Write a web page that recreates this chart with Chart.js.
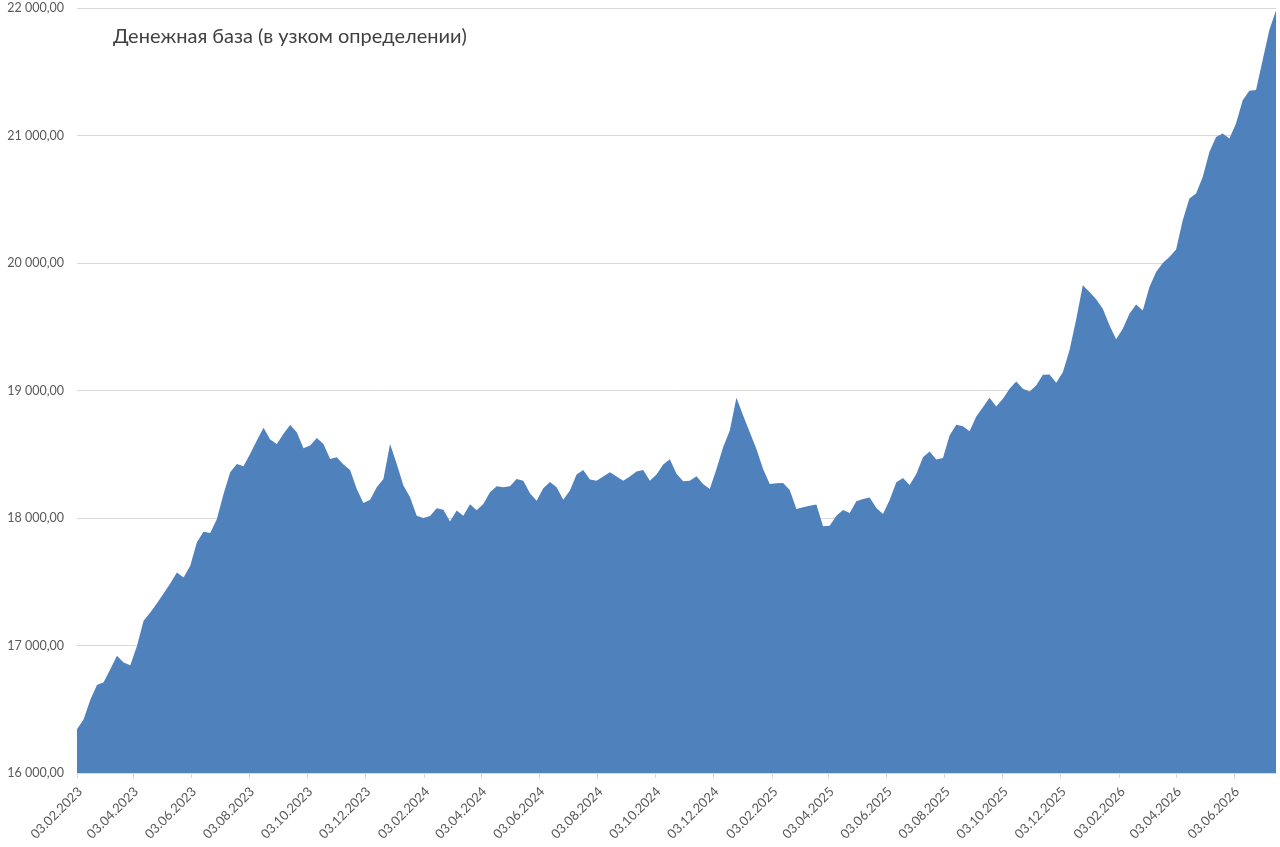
<!DOCTYPE html>
<html>
<head>
<meta charset="utf-8">
<script src="https://cdn.jsdelivr.net/npm/chart.js@4.4.1/dist/chart.umd.min.js"></script>
<style>
  html, body { margin: 0; padding: 0; background: #ffffff; }
  #wrap { position: relative; width: 1280px; height: 847px; }
  canvas { display: block; }
</style>
</head>
<body>
<div id="wrap"><canvas id="c" width="1280" height="847"></canvas></div>
<script>
// ---- Data (weekly observations starting 03.02.2023) ----
const chartTitle = "Денежная база (в узком определении)";
const startDate = "03.02.2023";
const stepDays = 7;
const baseValues = [
  16343, 16422, 16575, 16690, 16712, 16814, 16919, 16866, 16846, 16997,
  17194, 17259, 17332, 17408, 17487, 17573, 17534, 17626, 17809, 17893,
  17882, 17992, 18188, 18358, 18424, 18405, 18503, 18607, 18707, 18615,
  18581, 18660, 18730, 18673, 18547, 18568, 18628, 18581, 18463, 18476,
  18419, 18377, 18228, 18118, 18144, 18241, 18306, 18581, 18424, 18254,
  18162, 18018, 18000, 18016, 18076, 18065, 17973, 18058, 18018, 18108,
  18060, 18110, 18202, 18249, 18241, 18249, 18306, 18293, 18194, 18136,
  18233, 18283, 18241, 18144, 18215, 18341, 18377, 18301, 18293, 18325,
  18359, 18325, 18293, 18325, 18364, 18377, 18293, 18341, 18419, 18460,
  18348, 18288, 18293, 18327, 18267, 18228, 18385, 18555, 18686, 18943,
  18804, 18673, 18542, 18385, 18267, 18272, 18275, 18220, 18071, 18084,
  18097, 18105, 17935, 17940, 18018, 18063, 18039, 18131, 18149, 18160,
  18078, 18032, 18142, 18280, 18314, 18259, 18346, 18476, 18521, 18458,
  18471, 18647, 18731, 18720, 18681, 18796, 18869, 18943, 18874, 18935,
  19013, 19071, 19013, 18992, 19039, 19123, 19126, 19061, 19144, 19315,
  19556, 19825, 19772, 19715, 19642, 19511, 19401, 19484, 19602, 19675,
  19628, 19812, 19929, 20000, 20047, 20105, 20335, 20505, 20545, 20675,
  20871, 20989, 21016, 20976, 21094, 21277, 21351, 21356, 21592, 21827,
  21980
];
const xTickLabels = [
  "03.02.2023", "03.04.2023", "03.06.2023", "03.08.2023", "03.10.2023", "03.12.2023",
  "03.02.2024", "03.04.2024", "03.06.2024", "03.08.2024", "03.10.2024", "03.12.2024",
  "03.02.2025", "03.04.2025", "03.06.2025", "03.08.2025", "03.10.2025", "03.12.2025",
  "03.02.2026", "03.04.2026", "03.06.2026"
];
const yMin = 16000, yMax = 22000, yStep = 1000;

// ---- helpers ----
function parseDMY(s) {
  const p = s.split(".");
  return Date.UTC(+p[2], +p[1] - 1, +p[0]);
}
const DAY = 86400000;
const t0 = parseDMY(startDate);
function dayOffset(s) { return Math.round((parseDMY(s) - t0) / DAY); }
function fmtDay(d) {
  const dt = new Date(t0 + d * DAY);
  const dd = String(dt.getUTCDate()).padStart(2, "0");
  const mm = String(dt.getUTCMonth() + 1).padStart(2, "0");
  return dd + "." + mm + "." + dt.getUTCFullYear();
}
function fmtNum(v) {
  const fixed = v.toFixed(2).split(".");
  const intPart = fixed[0].replace(/\B(?=(\d{3})+(?!\d))/g, "\u00a0");
  return intPart + "," + fixed[1];
}

const points = baseValues.map((v, i) => ({ x: i * stepDays, y: v }));
const tickDays = xTickLabels.map(dayOffset);
const xMax = (baseValues.length - 1) * stepDays;

const FONT = "Lato, 'Open Sans', 'DejaVu Sans', sans-serif";
const GRID = "#d9d9d9";
const TEXT = "#595959";

const titlePlugin = {
  id: "overlayTitle",
  afterDraw(chart) {
    const ctx = chart.ctx;
    ctx.save();
    ctx.font = "20px " + FONT;
    ctx.fillStyle = "#404040";
    ctx.textAlign = "left";
    ctx.textBaseline = "alphabetic";
    ctx.fillText(chartTitle, chart.chartArea.left + 36, chart.chartArea.top + 35);
    ctx.restore();
  }
};

new Chart(document.getElementById("c"), {
  type: "line",
  data: {
    datasets: [{
      label: chartTitle,
      data: points,
      fill: "start",
      backgroundColor: "#4f81bd",
      borderColor: "#4f81bd",
      borderWidth: 0,
      pointRadius: 0,
      tension: 0
    }]
  },
  options: {
    responsive: false,
    animation: false,
    devicePixelRatio: 1,
    layout: { padding: { top: 8, right: 4, left: 0, bottom: 0 } },
    plugins: {
      legend: { display: false },
      title: { display: false },
      tooltip: { enabled: false }
    },
    scales: {
      x: {
        type: "linear",
        min: 0,
        max: xMax,
        afterBuildTicks(scale) {
          scale.ticks = tickDays.map(v => ({ value: v }));
        },
        afterFit(scale) {
          scale.height = 74;
          scale.paddingLeft = 0;
          scale.paddingRight = 0;
        },
        ticks: {
          autoSkip: false,
          minRotation: 45,
          maxRotation: 45,
          padding: 6,
          labelOffset: 3,
          color: TEXT,
          font: { family: FONT, size: 13 },
          callback: (v) => fmtDay(v)
        },
        grid: {
          drawOnChartArea: false,
          drawTicks: true,
          tickLength: 5,
          color: GRID
        },
        border: { display: true, color: GRID, width: 1 }
      },
      y: {
        min: yMin,
        max: yMax,
        afterFit(scale) {
          scale.width = 77;
          scale.paddingTop = 0;
          scale.paddingBottom = 0;
        },
        ticks: {
          stepSize: yStep,
          padding: 13,
          color: TEXT,
          font: { family: FONT, size: 12.5 },
          callback: (v) => fmtNum(v)
        },
        grid: { color: GRID, drawTicks: false, lineWidth: 1 },
        border: { display: false }
      }
    }
  },
  plugins: [titlePlugin]
});
</script>
</body>
</html>
